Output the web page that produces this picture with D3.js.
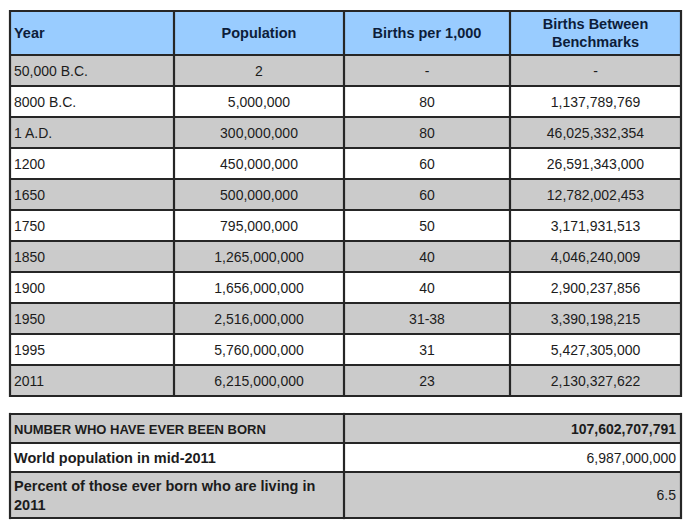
<!DOCTYPE html>
<html>
<head>
<meta charset="utf-8">
<script src="https://cdn.jsdelivr.net/npm/d3@7"></script>
<style>
  html, body { margin: 0; padding: 0; background: #ffffff; }
  svg { display: block; }
  text { font-family: Arial, "Liberation Sans", sans-serif; }
</style>
</head>
<body>
<svg id="chart" width="688" height="525"></svg>
<script>
// ---- Data ----
const headers = ["Year", "Population", "Births per 1,000", "Births Between\nBenchmarks"];
const years = ["50,000 B.C.", "8000 B.C.", "1 A.D.", "1200", "1650", "1750", "1850", "1900", "1950", "1995", "2011"];
const population = [2, 5000000, 300000000, 450000000, 500000000, 795000000, 1265000000, 1656000000, 2516000000, 5760000000, 6215000000];
const birthsPer1000 = ["-", "80", "80", "60", "60", "50", "40", "40", "31-38", "31", "23"];
const birthsBetween = [null, 1137789769, 46025332354, 26591343000, 12782002453, 3171931513, 4046240009, 2900237856, 3390198215, 5427305000, 2130327622];
const summaryLabels = ["NUMBER WHO HAVE EVER BEEN BORN", "World population in mid-2011", "Percent of those ever born who are living in\n2011"];
const summaryValues = ["107,602,707,791", "6,987,000,000", "6.5"];

// ---- Layout ----
const svg = d3.select("#chart");
const fmt = d3.format(",");
const colEdges = [10, 174, 344, 510, 681];
const headerTop = 11, headerBottom = 55, bodyBottom = 396;
const borderColor = "#262626";
const blue = "#99ccff", gray = "#cbcbcb", white = "#ffffff";

const yRow = d3.scaleBand().domain(d3.range(years.length)).range([headerBottom, bodyBottom]);

const rows = years.map((y, i) => [
  y,
  fmt(population[i]),
  birthsPer1000[i],
  birthsBetween[i] == null ? "-" : fmt(birthsBetween[i])
]);

const g1 = svg.append("g");
// header background
g1.append("rect").attr("x", colEdges[0]).attr("y", headerTop)
  .attr("width", colEdges[4] - colEdges[0]).attr("height", headerBottom - headerTop).attr("fill", blue);
// row backgrounds
g1.selectAll("rect.row").data(rows).join("rect").attr("class", "row")
  .attr("x", colEdges[0]).attr("y", (d, i) => yRow(i))
  .attr("width", colEdges[4] - colEdges[0]).attr("height", yRow.bandwidth())
  .attr("fill", (d, i) => i % 2 === 0 ? gray : white);

// header text
headers.forEach((h, c) => {
  const lines = h.split("\n");
  const cx = c === 0 ? colEdges[0] + 4 : (colEdges[c] + colEdges[c + 1]) / 2;
  const cy = (headerTop + headerBottom) / 2;
  const t = g1.append("text")
    .attr("x", cx)
    .attr("text-anchor", c === 0 ? "start" : "middle")
    .attr("font-weight", "bold").attr("font-size", 14.5).attr("fill", "#0d1d3a");
  lines.forEach((ln, k) => {
    t.append("tspan").attr("x", cx)
      .attr("y", cy + 5 + (k - (lines.length - 1) / 2) * 18)
      .text(ln);
  });
});

// body text
rows.forEach((r, i) => {
  r.forEach((v, c) => {
    g1.append("text")
      .attr("x", c === 0 ? colEdges[0] + 4 : (colEdges[c] + colEdges[c + 1]) / 2)
      .attr("y", yRow(i) + yRow.bandwidth() / 2 + 5)
      .attr("text-anchor", c === 0 ? "start" : "middle")
      .attr("font-size", 14).attr("fill", "#1c1c1c")
      .text(v);
  });
});

// grid lines
const hLines = [headerTop, headerBottom].concat(d3.range(years.length).map(i => yRow(i) + yRow.bandwidth()));
g1.selectAll("line.h").data(hLines).join("line").attr("class", "h")
  .attr("x1", colEdges[0]).attr("x2", colEdges[4]).attr("y1", d => d).attr("y2", d => d)
  .attr("stroke", borderColor).attr("stroke-width", 2.2);
g1.selectAll("line.v").data(colEdges).join("line").attr("class", "v")
  .attr("x1", d => d).attr("x2", d => d).attr("y1", headerTop - 1.1).attr("y2", bodyBottom + 1.1)
  .attr("stroke", borderColor).attr("stroke-width", 2.2);

// ---- Summary table ----
const sTop = 414;
const sHeights = [29, 29, 46];
const sY = [sTop];
sHeights.forEach((h, i) => sY.push(sY[i] + h));
const sCols = [colEdges[0], colEdges[2], colEdges[4]];

const g2 = svg.append("g");
summaryLabels.forEach((lab, i) => {
  g2.append("rect").attr("x", sCols[0]).attr("y", sY[i])
    .attr("width", sCols[2] - sCols[0]).attr("height", sHeights[i])
    .attr("fill", i % 2 === 0 ? gray : white);
  const lines = lab.split("\n");
  const cy = (sY[i] + sY[i + 1]) / 2;
  const t = g2.append("text").attr("x", sCols[0] + 4)
    .attr("font-weight", "bold").attr("font-size", i === 0 ? 13 : 14.5).attr("fill", "#1c1c1c");
  lines.forEach((ln, k) => {
    t.append("tspan").attr("x", sCols[0] + 4)
      .attr("y", cy + 5 + (k - (lines.length - 1) / 2) * 19)
      .text(ln);
  });
  g2.append("text").attr("x", sCols[2] - 5).attr("y", cy + 5)
    .attr("text-anchor", "end")
    .attr("font-weight", i === 0 ? "bold" : "normal")
    .attr("font-size", 14).attr("fill", "#1c1c1c")
    .text(summaryValues[i]);
});
g2.selectAll("line.h").data(sY).join("line").attr("class", "h")
  .attr("x1", sCols[0]).attr("x2", sCols[2]).attr("y1", d => d).attr("y2", d => d)
  .attr("stroke", borderColor).attr("stroke-width", 2.2);
g2.selectAll("line.v").data(sCols).join("line").attr("class", "v")
  .attr("x1", d => d).attr("x2", d => d).attr("y1", sTop - 1.1).attr("y2", sY[3] + 1.1)
  .attr("stroke", borderColor).attr("stroke-width", 2.2);
</script>
</body>
</html>
